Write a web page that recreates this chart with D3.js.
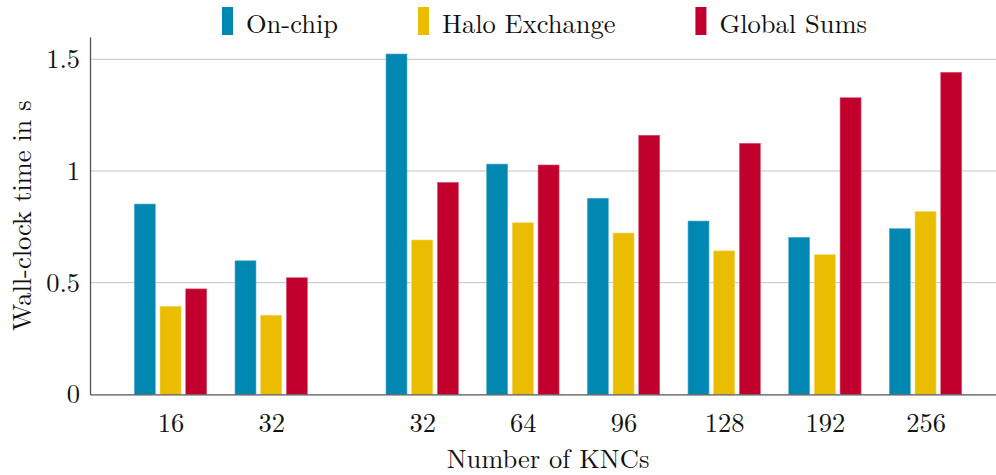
<!DOCTYPE html>
<html>
<head>
<meta charset="utf-8">
<script src="https://cdn.jsdelivr.net/npm/d3@7"></script>
<style>
  html, body { margin: 0; padding: 0; background: #fff; }
  svg { display: block; }
</style>
</head>
<body>
<div id="chart"></div>
<script>
// Data
const categories = ['16', '32', '32', '64', '96', '128', '192', '256'];
// x slot of each group (the first two runs are separated by a half-slot gap)
const slots = [0, 1, 2.5, 3.5, 4.5, 5.5, 6.5, 7.5];
const seriesNames = ['On-chip', 'Halo Exchange', 'Global Sums'];
const onChip = [0.852, 0.598, 1.524, 1.031, 0.878, 0.776, 0.703, 0.742];
const haloExchange = [0.394, 0.354, 0.691, 0.768, 0.722, 0.642, 0.625, 0.818];
const globalSums = [0.472, 0.522, 0.949, 1.027, 1.160, 1.124, 1.328, 1.442];
const yTicks = [0, 0.5, 1, 1.5];
const yTickLabels = ['0', '0.5', '1', '1.5'];

const colors = ['#0088b3', '#ebbd00', '#c1002d'];
const seriesValues = [onChip, haloExchange, globalSums];

const FONT = '"Latin Modern Roman", "Liberation Serif", serif';
const FS = '26.5px';

const width = 996, height = 475;
const margin = { top: 37, right: 0, bottom: 80.7, left: 90 };

const svg = d3.select('#chart').append('svg')
  .attr('width', width)
  .attr('height', height);

const x = d3.scaleLinear()
  .domain([-0.8, 8.2])
  .range([margin.left, width - margin.right]);

const y = d3.scaleLinear()
  .domain([0, 1.6])
  .range([height - margin.bottom, margin.top]);

// series offset inside a group
const inner = d3.scaleBand()
  .domain(seriesNames)
  .range([-36.2, 36.2])
  .paddingInner(0.183);

// grid lines
svg.append('g')
  .selectAll('line')
  .data(yTicks.filter(d => d > 0))
  .join('line')
  .attr('x1', x.range()[0])
  .attr('x2', x.range()[1])
  .attr('y1', d => y(d))
  .attr('y2', d => y(d))
  .attr('stroke', '#c4c4c4')
  .attr('stroke-width', 1);

// bars
const rows = categories.map((c, i) => ({
  cat: c,
  slot: slots[i],
  vals: seriesNames.map((s, j) => ({ series: s, value: seriesValues[j][i], color: colors[j] }))
}));

svg.append('g')
  .selectAll('g')
  .data(rows)
  .join('g')
  .attr('transform', d => `translate(${x(d.slot)},0)`)
  .selectAll('rect')
  .data(d => d.vals)
  .join('rect')
  .attr('x', d => inner(d.series))
  .attr('width', inner.bandwidth())
  .attr('y', d => y(d.value))
  .attr('height', d => y(0) - y(d.value))
  .attr('fill', d => d.color)
  .attr('stroke', d => d3.interpolateRgb(d.color, '#fff')(0.35))
  .attr('stroke-width', 0.6);

// axes
const xAxis = d3.axisBottom(x)
  .tickValues(slots)
  .tickFormat((d, i) => categories[i])
  .tickSize(0)
  .tickPadding(19);

svg.append('g')
  .attr('transform', `translate(0,${y(0)})`)
  .call(xAxis)
  .call(g => g.select('.domain').attr('stroke', '#555').attr('stroke-width', 1.3))
  .call(g => g.selectAll('text')
    .style('font-family', FONT)
    .style('font-size', FS)
    .attr('fill', '#111'));

const yAxis = d3.axisLeft(y)
  .tickValues(yTicks)
  .tickFormat((d, i) => yTickLabels[i])
  .tickSize(0)
  .tickPadding(10);

svg.append('g')
  .attr('transform', `translate(${margin.left},0)`)
  .call(yAxis)
  .call(g => g.select('.domain').attr('stroke', '#555').attr('stroke-width', 1.3))
  .call(g => g.selectAll('text')
    .style('font-family', FONT)
    .style('font-size', FS)
    .attr('fill', '#111'));

// axis titles
svg.append('text')
  .attr('x', 548)
  .attr('y', 468)
  .attr('text-anchor', 'middle')
  .style('font-family', FONT)
  .style('font-size', FS)
  .attr('fill', '#111')
  .text('Number of KNCs');

svg.append('text')
  .attr('transform', `translate(31,${(y(0) + y(1.6)) / 2}) rotate(-90)`)
  .attr('text-anchor', 'middle')
  .style('font-family', FONT)
  .style('font-size', FS)
  .attr('fill', '#111')
  .text('Wall-clock time in s');

// legend
const legend = svg.append('g').attr('transform', 'translate(222,7)');
let lx = 0;
seriesNames.forEach((name, i) => {
  const item = legend.append('g').attr('transform', `translate(${lx},0)`);
  item.append('rect')
    .attr('width', 11)
    .attr('height', 28)
    .attr('fill', colors[i]);
  const t = item.append('text')
    .attr('x', 24)
    .attr('y', 26)
    .style('font-family', FONT)
    .style('font-size', FS)
    .attr('fill', '#111')
    .text(name);
  lx += 24 + t.node().getComputedTextLength() + 80;
});
</script>
</body>
</html>
